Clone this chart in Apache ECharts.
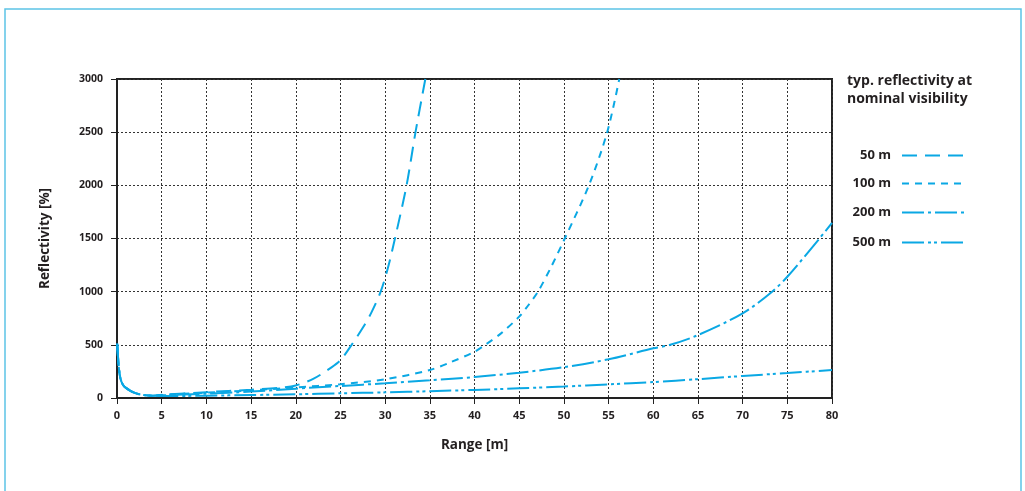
<!DOCTYPE html>
<html>
<head>
<meta charset="utf-8">
<script src="https://cdn.jsdelivr.net/npm/echarts@6/dist/echarts.min.js"></script>
<style>
html,body{margin:0;padding:0;background:#fff;}
#chart{width:1025px;height:491px;}
</style>
</head>
<body>
<div id="chart"></div>
<script>
// Shared near-range part (all curves coincide), [range m, reflectivity %]
var nearRange = [[0.02,510],[0.1,400],[0.2,290],[0.3,220],[0.45,165],[0.7,120],[1,95],[1.5,68],[2,48],[2.5,35],[3,27],[4,22]];
var vis50  = [[5,30],[10,55],[15,78],[18,95],[20,118],[22,182],[24,288],[25,355],[26.25,500],[27.5,660],[28.5,810],[29.5,1000],[30.3,1220],[31.1,1500],[32.4,2000],[33.4,2500],[34.5,3000]];
var vis100 = [[5,28],[10,50],[15,72],[20,100],[25,130],[30,176],[35,263],[37.2,332],[40,435],[41.2,500],[43,610],[45,765],[46,870],[47.1,1000],[48.5,1220],[50.1,1500],[52.8,2000],[54.85,2500],[56.2,3000]];
var vis200 = [[5,25],[10,40],[15,60],[20,88],[25,113],[30,138],[35,166],[40,197],[45,238],[50,290],[55,364],[60,467],[61.9,500],[65,592],[70,796],[73.3,1000],[75,1140],[78.6,1500],[80,1648]];
var vis500 = [[5,18],[10,22],[15,28],[20,35],[25,44],[30,53],[35,64],[40,76],[45,91],[50,108],[55,128],[60,150],[65,177],[70,207],[75,235],[80,263]];
var seriesNames = ['50 m','100 m','200 m','500 m'];
var xTicks = {min:0, max:80, interval:5};
var yTicks = {min:0, max:3000, interval:500};

var lineColor = '#0aa8e4';
var dashes = [[15,8],[7,6],[22,4,3,4],[22,4,3,3,3,4]];
var dataSets = [vis50, vis100, vis200, vis500];
var font = '"Open Sans", Lato, sans-serif';
var txt = '#231f20';

var series = seriesNames.map(function(n,i){
  return {
    name:n, type:'line', data: nearRange.concat(dataSets[i]),
    showSymbol:false, symbol:'none', smooth:0.3, clip:true,
    lineStyle:{color:lineColor, width:2, type:dashes[i]},
    itemStyle:{color:lineColor}
  };
});

var legendTops = [144,172,201,231];
var legends = seriesNames.map(function(n,i){
  return {
    data:[n], orient:'vertical', right:53, top:legendTops[i], align:'right',
    itemWidth:64, itemHeight:14, itemGap:0,
    itemStyle:{opacity:0, borderWidth:0},
    textStyle:{fontFamily:font, fontWeight:'bold', fontSize:13, color:txt, padding:[0,6,0,0]},
    selectedMode:false
  };
});

var chart = echarts.init(document.getElementById('chart'));
chart.setOption({
  animation:false,
  backgroundColor:'#fff',
  graphic:[{type:'rect', shape:{x:5,y:9,width:1016,height:520}, style:{fill:'none', stroke:'#5cc4e6', lineWidth:1.5}, silent:true, z:-1}],
  title:{text:'typ. reflectivity at\nnominal visibility', left:847, top:72, padding:0,
    textStyle:{fontFamily:font, fontWeight:'bold', fontSize:14, color:txt, lineHeight:18}},
  legend:legends,
  grid:{left:117, right:193, top:79, bottom:93, show:true, borderColor:'#222', borderWidth:2, backgroundColor:'transparent'},
  xAxis:{type:'value', min:xTicks.min, max:xTicks.max, interval:xTicks.interval,
    name:'Range [m]', nameLocation:'middle', nameGap:40,
    nameTextStyle:{fontFamily:font, fontWeight:'bold', fontSize:13.5, color:txt},
    axisLine:{show:true, onZero:false, lineStyle:{color:'#222', width:2}},
    axisTick:{show:true, length:6, lineStyle:{color:'#222', width:1}},
    axisLabel:{fontFamily:font, fontWeight:'bold', fontSize:11, color:txt, margin:12,
      formatter:function(v){return String(v);}},
    splitLine:{show:true, lineStyle:{color:'#333', width:1, type:[2,2]}}
  },
  yAxis:{type:'value', min:yTicks.min, max:yTicks.max, interval:yTicks.interval,
    name:'Reflectivity [%]', nameLocation:'middle', nameGap:65, nameRotate:90,
    nameTextStyle:{fontFamily:font, fontWeight:'bold', fontSize:13.5, color:txt},
    axisLine:{show:true, onZero:false, lineStyle:{color:'#222', width:2}},
    axisTick:{show:true, length:6, lineStyle:{color:'#222', width:1}},
    axisLabel:{fontFamily:font, fontWeight:'bold', fontSize:10.5, color:txt, margin:14,
      formatter:function(v){return String(v);}},
    splitLine:{show:true, lineStyle:{color:'#333', width:1, type:[2,2]}}
  },
  series:series
});
</script>
</body>
</html>
